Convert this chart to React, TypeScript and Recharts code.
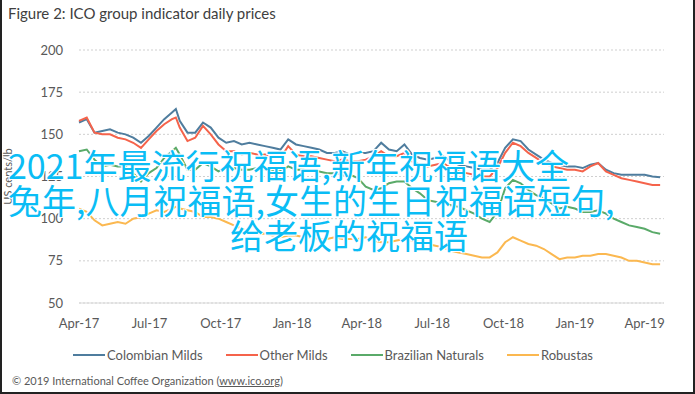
import { LineChart, Line, XAxis, YAxis, CartesianGrid } from 'recharts'

// ─── Data (~10-day steps) ────────────────────────────────────────────────────
// x = days since 1 Apr 2017

const days = [
  0, 10, 20, 30, 40, 50, 60, 70, 80, 90, 100, 110, 120, 125, 130, 140, 150, 160, 170, 180,
  190, 200, 210, 220, 230, 240, 250, 260, 270, 280, 290, 300, 310, 320, 330, 340, 350, 360, 370, 380,
  390, 400, 410, 420, 430, 440, 450, 460, 470, 480, 490, 500, 510, 520, 530, 540, 550, 560, 570, 580,
  590, 600, 610, 620, 630, 640, 650, 660, 670, 680, 690, 700, 710, 720, 730, 740, 750,
]

const colombianMilds = [
  157, 159, 151, 152, 153, 151, 150, 148, 145, 149,
  154, 159, 163, 165, 158, 151, 151, 157, 154, 148,
  145, 146, 144, 145, 144, 143, 142, 141, 147, 144,
  143, 142, 141, 139, 139, 140, 138, 139, 139, 140,
  145, 141, 140, 144, 138, 136, 135, 136, 137, 134,
  132, 131, 130, 129, 129, 133, 142, 147, 146, 141,
  138, 135, 133, 132, 131, 131, 130, 132, 133, 129,
  127, 126, 126, 126, 126, 125, 124.5,
]

const otherMilds = [
  158, 160, 151, 150, 150, 148, 147, 145, 142, 147,
  152, 156, 159, 160, 154, 146, 148, 155, 150, 144,
  140, 140, 138, 139, 138, 138, 137, 136, 143, 138,
  137, 137, 136, 135, 134, 135, 134, 134, 135, 137,
  140, 137, 137, 139, 134, 132, 131, 132, 133, 130,
  128, 127, 126, 125, 125, 130, 139, 145, 143, 139,
  136, 133, 131, 130, 129, 129, 128, 131, 133, 128,
  126, 124, 123, 122, 121, 120, 120,
]

const brazilianNaturals = [
  140, 141, 135, 131, 132, 131, 131, 127, 122, 127,
  130, 136, 140, 142, 138, 129, 129, 133, 131, 128,
  130, 130, 129, 129, 130, 129, 129, 128, 131, 129,
  129, 128, 128, 127, 127, 126, 126, 124, 119, 117,
  118, 121, 122, 122, 118, 115, 111, 110, 109, 108,
  107, 105, 103, 100, 98, 104, 118, 123, 121, 117,
  114, 112, 109, 106, 107, 106, 104, 104, 105, 103,
  100, 98, 96, 95, 94, 92, 91,
]

const robustas = [
  106, 104, 99, 96, 97, 98, 97, 100, 101, 103,
  105, 104, 106, 107, 106, 105, 104, 101, 101, 100,
  98, 96, 94, 92, 91, 91, 90, 89, 90, 90,
  89, 89, 88, 88, 89, 88, 88, 88, 89, 87,
  86, 86, 87, 88, 87, 86, 85, 84, 83, 81,
  80, 79, 78, 77, 77, 80, 86, 89, 87, 85,
  84, 82, 79, 76, 77, 77, 78, 78, 79, 79,
  78, 77, 75, 75, 74, 73, 73,
]

const tickDays = [0, 91, 183, 275, 365, 456, 548, 640, 730]
const tickLabels = ['Apr-17', 'Jul-17', 'Oct-17', 'Jan-18', 'Apr-18', 'Jul-18', 'Oct-18', 'Jan-19', 'Apr-19']
const yTicks = [50, 75, 100, 125, 150, 175, 200]

const overlayLines = [
  '2021年最流行祝福语,新年祝福语大全',
  '兔年,八月祝福语,女生的生日祝福语短句,',
  '给老板的祝福语',
]

// ─── Series styling ───────────────────────────────────────────────────────────

const SERIES = [
  { key: 'colombian', name: 'Colombian Milds', color: '#4f7d9e' },
  { key: 'other', name: 'Other Milds', color: '#f5634b' },
  { key: 'brazilian', name: 'Brazilian Naturals', color: '#5aaa69' },
  { key: 'robustas', name: 'Robustas', color: '#fbb850' },
] as const

const data = days.map((day, i) => ({
  day,
  colombian: colombianMilds[i],
  other: otherMilds[i],
  brazilian: brazilianNaturals[i],
  robustas: robustas[i],
}))

const FONT = 'Lato, "Open Sans", sans-serif'
const TEXT = '#595959'

function ChartLegend() {
  return (
    <div
      style={{
        position: 'absolute',
        top: 346,
        left: 71,
        display: 'flex',
        gap: 23,
        fontFamily: FONT,
        fontSize: 13,
        color: TEXT,
        lineHeight: '18px',
      }}
    >
      {SERIES.map((s) => (
        <div key={s.key} style={{ display: 'flex', alignItems: 'center' }}>
          <span style={{ width: 32, height: 2.5, background: s.color, marginRight: 2 }} />
          <span>{s.name}</span>
        </div>
      ))}
    </div>
  )
}

export default function App() {
  const outline = '-1px -1px 0 #fff, 1px -1px 0 #fff, -1px 1px 0 #fff, 1px 1px 0 #fff'
  const lineTops = [147, 182, 217]
  const lineLefts = [8, 8, 230]

  return (
    <div
      style={{
        position: 'absolute',
        left: 0,
        top: 0,
        width: 695,
        height: 394,
        background: '#fff',
        boxSizing: 'border-box',
        borderLeft: '2px solid #222',
        borderRight: '2px solid #222',
        borderBottom: '2px solid #222',
        overflow: 'hidden',
      }}
    >
      <div
        style={{
          position: 'absolute',
          left: 6,
          top: 4,
          fontFamily: FONT,
          fontSize: 15,
          color: '#404040',
          whiteSpace: 'nowrap',
        }}
      >
        Figure 2: ICO group indicator daily prices
      </div>

      <div style={{ position: 'absolute', left: -2, top: 0 }}>
        <LineChart
          width={695}
          height={394}
          data={data}
          margin={{ top: 50, right: 31, bottom: 61, left: 0 }}
        >
          <CartesianGrid vertical={false} stroke="#cfcfcf" strokeDasharray="2 2" />
          <XAxis
            dataKey="day"
            type="number"
            domain={[0, 755]}
            ticks={tickDays}
            tickFormatter={(v: number) => tickLabels[tickDays.indexOf(v)]}
            height={30}
            tickLine={false}
            tickMargin={10}
            axisLine={{ stroke: '#d9d9d9' }}
            tick={{ fontSize: 13, fill: TEXT, fontFamily: FONT }}
            interval={0}
          />
          <YAxis
            domain={[50, 200]}
            ticks={yTicks}
            width={79}
            tickLine={false}
            axisLine={false}
            tickMargin={10}
            tick={{ fontSize: 13, fill: TEXT, fontFamily: FONT }}
            label={{
              value: 'US cents/lb',
              angle: -90,
              position: 'insideLeft',
              offset: 8,
              style: { fontSize: 11, fill: TEXT, fontFamily: FONT, textAnchor: 'middle' },
            }}
          />
          {SERIES.map((s) => (
            <Line
              key={s.key}
              dataKey={s.key}
              name={s.name}
              stroke={s.color}
              strokeWidth={2}
              dot={false}
              type="linear"
              isAnimationActive={false}
            />
          ))}
        </LineChart>
      </div>

      <ChartLegend />

      <div
        style={{
          position: 'absolute',
          left: 10,
          top: 374,
          fontFamily: FONT,
          fontSize: 11,
          color: TEXT,
          whiteSpace: 'nowrap',
        }}
      >
        © 2019 International Coffee Organization (<span style={{ textDecoration: 'underline' }}>www.ico.org</span>)
      </div>

      {overlayLines.map((t, i) => (
        <div
          key={i}
          style={{
            position: 'absolute',
            left: lineLefts[i] - 2,
            top: lineTops[i],
            fontFamily: '"Noto Sans CJK SC", sans-serif',
            fontSize: 34,
            lineHeight: '35px',
            color: '#0abdf5',
            whiteSpace: 'nowrap',
            textShadow: outline,
          }}
        >
          {t}
        </div>
      ))}
    </div>
  )
}
